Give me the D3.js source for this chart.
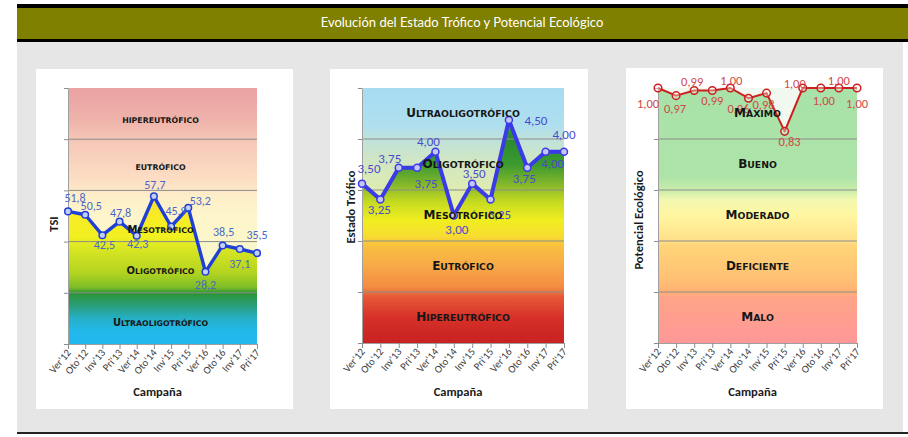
<!DOCTYPE html>
<html><head><meta charset="utf-8">
<script src="https://cdn.jsdelivr.net/npm/d3@7"></script>
<style>body{margin:0;background:#fff} svg{display:block}</style>
</head><body>
<svg id="c" width="908" height="437"></svg>
<script>
// ---------- DATA ----------
const categories = ["Ver'12","Oto'12","Inv'13","Pri'13","Ver'14","Oto'14","Inv'15","Pri'15","Ver'16","Oto'16","Inv'17","Pri'17"];
const tsiValues = [51.8, 50.5, 42.5, 47.8, 42.3, 57.7, 45.9, 53.2, 28.2, 38.5, 37.1, 35.5];
const estadoValues = [3.50, 3.25, 3.75, 3.75, 4.00, 3.00, 3.50, 3.25, 4.50, 3.75, 4.00, 4.00];
const potencialValues = [1.00, 0.97, 0.99, 0.99, 1.00, 0.96, 0.98, 0.83, 1.00, 1.00, 1.00, 1.00];
const tsiBands = ["Hipereutrófico","Eutrófico","Mesotrófico","Oligotrófico","Ultraoligotrófico"];
const estadoBands = ["Ultraoligotrófico","Oligotrófico","Mesotrófico","Eutrófico","Hipereutrófico"];
const potencialBands = ["Máximo","Bueno","Moderado","Deficiente","Malo"];
const tsiDomain = [0, 100];
const estadoDomain = [1, 5];
const potencialDomain = [0, 1];
const title = "Evolución del Estado Trófico y Potencial Ecológico";
const xTitle = "Campaña";

// ---------- LAYOUT / STYLE ----------
const svg = d3.select("#c");
const defs = svg.append("defs");
const comma = f => v => f(v).replace(".", ",");

// header & background
svg.append("rect").attr("x",17).attr("y",42).attr("width",886).attr("height",391).attr("fill","#e6e6e6");
svg.append("rect").attr("x",17).attr("y",4).attr("width",891).attr("height",4).attr("fill","#000");
svg.append("rect").attr("x",17).attr("y",8).attr("width",891).attr("height",31).attr("fill","#808000");
svg.append("rect").attr("x",17).attr("y",39).attr("width",891).attr("height",3).attr("fill","#000");
svg.append("rect").attr("x",17).attr("y",432).attr("width",891).attr("height",2).attr("fill","#222");
svg.append("text").attr("x",462).attr("y",27).attr("text-anchor","middle")
  .attr("font-family","Lato, 'DejaVu Sans', sans-serif").attr("font-size",13).attr("fill","#fff").text(title);

const charts = [
  { key:"c1", values: tsiValues, domain: tsiDomain, bands: tsiBands, fmt: comma(d3.format(".1f")),
    panel:[36,69,257,340], plot:[68,88,189,256], yTitle:"TSI", yTitleX:53, yTitleY:224,
    line:"#1f3fd6", lw:3.4, r:3.3, mfill:"#c4cff2", lab:"#4a66c8", labSize:12,
    bandSmall:7.8, bandBig:10, firstBig:[false,false,true,true,true],
    bandLabelAt:[87.5,69,44.5,28.6,8.2], bandDx:-2,
    offs:[[7,-13],[6,-9],[2,10],[1,-9],[1,8],[1,-11],[5,-15],[12,-7],[0,13],[1,-13],[0,15],[0,-18]],
    pale:[[0,"#e9a2a2"],[0.12,"#eeb2aa"],[0.2,"#f5c6b6"],[0.3,"#fad5bf"],[0.38,"#fde2c5"],[0.42,"#fdeec8"],[0.5,"#fef5cb"],[0.62,"#f9f7c9"],[0.75,"#f2f6cc"],[1,"#e8f4e0"]],
    sat:[[0,"#e9a2a2"],[0.36,"#f5d23a"],[0.42,"#f7e030"],[0.5,"#f8ec26"],[0.58,"#f2f020"],[0.63,"#d8e622"],[0.72,"#b4d420"],[0.78,"#7cbc28"],[0.8,"#2a9432"],[0.85,"#2a9e7a"],[0.9,"#26b0c8"],[0.95,"#22b8ea"],[1,"#22b8f0"]] },
  { key:"c2", values: estadoValues, domain: estadoDomain, bands: estadoBands, fmt: comma(d3.format(".2f")),
    panel:[330,69,258,340], plot:[362,88,202,255], yTitle:"Estado Trófico", yTitleX:350, yTitleY:207,
    line:"#3a3ae8", lw:4, r:3.5, mfill:"#c6c6f6", lab:"#4a4acc", labSize:13,
    bandSmall:9.3, bandBig:12, firstBig:[true,true,true,true,true],
    bandLabelAt:null, bandDx:0,
    offs:[[7,-15],[-1,10],[-9,-9],[9,16],[-7,-10],[3,14],[2,-10],[9,15],[27,1],[-3,11],[7,12],[0,-17]],
    pale:[[0,"#a6dcf2"],[0.15,"#b0dfee"],[0.2,"#bfe2dc"],[0.28,"#d0e6c4"],[0.38,"#dcebb4"],[0.48,"#eaf0a8"],[0.6,"#f4e8a0"],[1,"#f0c090"]],
    sat:[[0,"#a6dcf2"],[0.08,"#90ccd8"],[0.13,"#3c9a48"],[0.2,"#2a8a30"],[0.3,"#3c9a30"],[0.38,"#86b82a"],[0.45,"#c8dc20"],[0.52,"#f0ee20"],[0.58,"#f8dc30"],[0.62,"#f8c040"],[0.7,"#f8a848"],[0.78,"#f48c40"],[0.82,"#e65838"],[0.9,"#d63028"],[1,"#c82222"]] },
  { key:"c3", values: potencialValues, domain: potencialDomain, bands: potencialBands, fmt: comma(d3.format(".2f")),
    panel:[626,68,257,341], plot:[658,88,199,255], yTitle:"Potencial Ecológico", yTitleX:638, yTitleY:220,
    line:"#cc1f1f", lw:2, r:3.8, mfill:"rgba(255,255,255,0.35)", lab:"#d04848", labSize:12.5,
    bandSmall:9.3, bandBig:12, firstBig:[true,true,true,true,true],
    bandLabelAt:null, bandDx:0,
    offs:[[-10,15],[-1,13],[-2,-9],[0,10],[1,-8],[-10,10],[-3,11],[5,10],[-8,-5],[3,12],[0,-8],[0,15]],
    pale:[[0,"#f0f8f0"],[1,"#f0f8f0"]],
    sat:[[0,"#a8e2a8"],[0.35,"#aee4a8"],[0.4,"#c8ecaa"],[0.44,"#f4f8b0"],[0.5,"#fff6a0"],[0.6,"#ffe088"],[0.62,"#ffd478"],[0.75,"#ffc074"],[0.8,"#ffb072"],[0.82,"#ffa488"],[1,"#ff9898"]] }
];

function grad(id, stops, y1, y2) {
  const g = defs.append("linearGradient").attr("id", id).attr("gradientUnits","userSpaceOnUse")
    .attr("x1",0).attr("x2",0).attr("y1",y1).attr("y2",y2);
  stops.forEach(s => g.append("stop").attr("offset", s[0]).attr("stop-color", s[1]));
}

charts.forEach(c => {
  const [px,py,pw,ph] = c.panel;
  svg.append("rect").attr("x",px).attr("y",py).attr("width",pw).attr("height",ph).attr("fill","#fff");
  const [x0,y0,w,h] = c.plot;
  const x = d3.scalePoint().domain(categories).range([x0, x0+w]).padding(0);
  const y = d3.scaleLinear().domain(c.domain).range([y0+h, y0]);
  grad(c.key+"p", c.pale, y0, y0+h);
  grad(c.key+"s", c.sat, y0, y0+h);
  const g = svg.append("g");
  g.append("rect").attr("x",x0).attr("y",y0).attr("width",w).attr("height",h).attr("fill",`url(#${c.key}p)`);
  const area = d3.area().x((d,i)=>x(categories[i])).y0(y0+h).y1(d=>y(d));
  g.append("path").datum(c.values).attr("d",area).attr("fill",`url(#${c.key}s)`);
  const ticks = d3.range(6).map(i => c.domain[0] + (c.domain[1]-c.domain[0])*i/5);
  // gridlines
  g.selectAll(".gl").data(ticks.slice(1,5)).join("line")
    .attr("x1",x0).attr("x2",x0+w).attr("y1",d=>y(d)).attr("y2",d=>y(d))
    .attr("stroke","#8c8c8c").attr("stroke-width",1);
  // axes
  const ya = g.append("g").attr("transform",`translate(${x0},0)`)
    .call(d3.axisLeft(y).tickValues(ticks).tickFormat("").tickSize(4).tickSizeOuter(0));
  ya.select(".domain").attr("stroke","#a0a0a0");
  ya.selectAll(".tick line").attr("stroke","#8c8c8c");
  const xa = g.append("g").attr("transform",`translate(0,${y0+h})`)
    .call(d3.axisBottom(x).tickSize(5).tickSizeOuter(0));
  xa.select(".domain").attr("stroke","#a0a0a0");
  xa.selectAll(".tick line").attr("stroke","#8c8c8c");
  xa.selectAll(".tick text").attr("font-family","Carlito, Lato, sans-serif").attr("font-size",10.5)
    .attr("fill","#404040").attr("text-anchor","end").attr("dy",0).attr("y",0)
    .attr("transform","translate(3,9) rotate(-50)");
  // axis titles
  svg.append("text").attr("transform",`translate(${c.yTitleX},${c.yTitleY}) rotate(-90)`)
    .attr("text-anchor","middle").attr("dominant-baseline","central")
    .attr("font-family","Carlito, Lato, sans-serif").attr("font-weight","bold").attr("font-size",12.5)
    .attr("fill","#1a1a1a").text(c.yTitle);
  svg.append("text").attr("x", x0 + w/2 - 5).attr("y", 396).attr("text-anchor","middle")
    .attr("font-family","Carlito, Lato, sans-serif").attr("font-weight","bold").attr("font-size",12.5)
    .attr("fill","#1a1a1a").text(xTitle);
  // line + markers
  const line = d3.line().x((d,i)=>x(categories[i])).y(d=>y(d));
  g.append("path").datum(c.values).attr("d",line).attr("fill","none")
    .attr("stroke",c.line).attr("stroke-width",c.lw).attr("stroke-linejoin","round");
  g.selectAll(".mk").data(c.values).join("circle")
    .attr("cx",(d,i)=>x(categories[i])).attr("cy",d=>y(d)).attr("r",c.r)
    .attr("fill",c.mfill).attr("stroke",c.line).attr("stroke-width",1.5);
  // data labels
  g.selectAll(".dl").data(c.values).join("text")
    .attr("x",(d,i)=>x(categories[i]) + c.offs[i][0]).attr("y",(d,i)=>y(d) + c.offs[i][1])
    .attr("text-anchor","middle").attr("dominant-baseline","central")
    .attr("font-family","Carlito, Lato, sans-serif").attr("font-size",c.labSize).attr("fill",c.lab)
    .text(d=>c.fmt(d));
  // band labels
  const bandH = (c.domain[1]-c.domain[0])/5;
  c.bands.forEach((b,i) => {
    const v = c.bandLabelAt ? c.bandLabelAt[i] : c.domain[1] - bandH*(i+0.5);
    const t = g.append("text").attr("x", x0 + w/2 + c.bandDx).attr("y", y(v) + c.bandSmall*0.37)
      .attr("text-anchor","middle").attr("font-family","'DejaVu Sans', sans-serif")
      .attr("font-weight","bold").attr("fill","#161616");
    const up = b.toUpperCase();
    t.append("tspan").attr("font-size", c.firstBig[i] ? c.bandBig : c.bandSmall).text(up[0]);
    t.append("tspan").attr("font-size", c.bandSmall).text(up.slice(1));
  });
});
</script>
</body></html>
